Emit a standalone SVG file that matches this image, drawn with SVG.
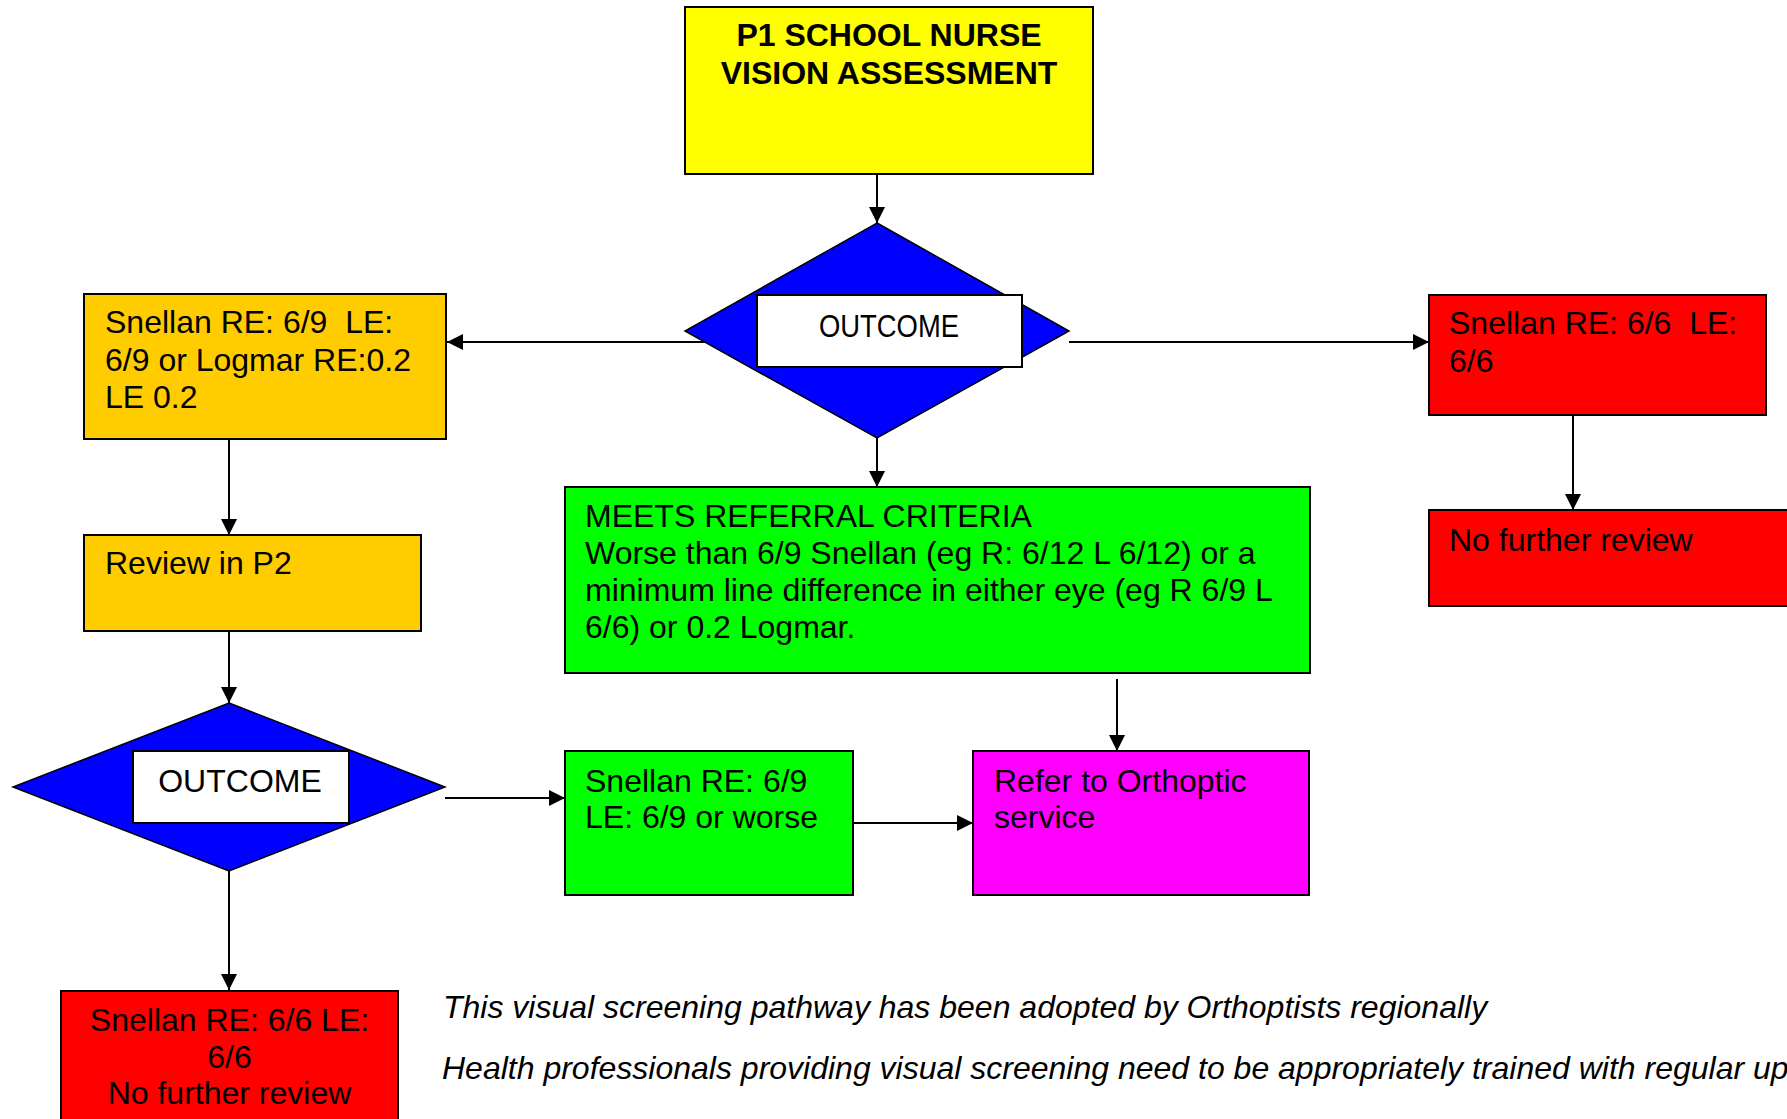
<svg xmlns="http://www.w3.org/2000/svg" width="1787" height="1119" viewBox="0 0 1787 1119">
<style>
.box{stroke:#000;stroke-width:2}
.dia{fill:#0000ff;stroke:#000;stroke-width:1.5}
.lbl{fill:#fff;stroke:#000;stroke-width:2}
.t{font-family:"Liberation Sans",Arial,sans-serif;font-size:32px;fill:#000;white-space:pre}
.b{font-weight:bold;font-size:32px}
.i{font-style:italic;font-size:32px}
.c line{stroke:#000;stroke-width:2;marker-end:url(#ah)}
</style>
<defs>
<marker id="ah" markerUnits="userSpaceOnUse" markerWidth="16" markerHeight="16" refX="16" refY="8" orient="auto">
<path d="M0,0 L16,8 L0,16 z" fill="#000"/>
</marker>
</defs>
<rect width="1787" height="1119" fill="#fff"/>
<g class="c" id="connectors">
<line x1="877" y1="174" x2="877" y2="223"/>
<line x1="708" y1="342" x2="447" y2="342"/>
<line x1="1069" y1="342" x2="1429" y2="342"/>
<line x1="877" y1="438" x2="877" y2="487"/>
<line x1="229" y1="439" x2="229" y2="535"/>
<line x1="229" y1="631" x2="229" y2="703"/>
<line x1="1573" y1="415" x2="1573" y2="510"/>
<line x1="1117" y1="679" x2="1117" y2="751"/>
<line x1="445" y1="798" x2="565" y2="798"/>
<line x1="853" y1="823" x2="973" y2="823"/>
<line x1="229" y1="871" x2="229" y2="990"/>
</g>
<g id="start">
<rect class="box" x="685" y="7" width="408" height="167" fill="#ffff00"/>
<text class="t b" x="889" y="46" text-anchor="middle">P1 SCHOOL NURSE</text>
<text class="t b" x="889" y="84" text-anchor="middle">VISION ASSESSMENT</text>
</g>
<g id="outcome1">
<polygon class="dia" points="877,223 1069,331 877,438 685,331"/>
<rect class="lbl" x="757" y="295" width="265" height="72"/>
<text class="t" x="819" y="337" textLength="140" lengthAdjust="spacingAndGlyphs">OUTCOME</text>
</g>
<g id="snellan69">
<rect class="box" x="84" y="294" width="362" height="145" fill="#ffcc00"/>
<text class="t" x="105" y="333" xml:space="preserve">Snellan RE: 6/9  LE:</text>
<text class="t" x="105" y="371">6/9 or Logmar RE:0.2</text>
<text class="t" x="105" y="408">LE 0.2</text>
</g>
<g id="review">
<rect class="box" x="84" y="535" width="337" height="96" fill="#ffcc00"/>
<text class="t" x="105" y="574">Review in P2</text>
</g>
<g id="snellan66">
<rect class="box" x="1429" y="295" width="337" height="120" fill="#ff0000"/>
<text class="t" x="1449" y="334" xml:space="preserve">Snellan RE: 6/6  LE:</text>
<text class="t" x="1449" y="372">6/6</text>
</g>
<g id="nofurther1">
<rect class="box" x="1429" y="510" width="380" height="96" fill="#ff0000"/>
<text class="t" x="1449" y="551">No further review</text>
</g>
<g id="meets">
<rect class="box" x="565" y="487" width="745" height="186" fill="#00ff00"/>
<text class="t" x="585" y="527">MEETS REFERRAL CRITERIA</text>
<text class="t" x="585" y="564">Worse than 6/9 Snellan (eg R: 6/12 L 6/12) or a</text>
<text class="t" x="585" y="601">minimum line difference in either eye (eg R 6/9 L</text>
<text class="t" x="585" y="638">6/6) or 0.2 Logmar.</text>
</g>
<g id="outcome2">
<polygon class="dia" points="229,703 445,787 229,871 13,787"/>
<rect class="lbl" x="133" y="751" width="216" height="72"/>
<text class="t" x="240" y="792" text-anchor="middle">OUTCOME</text>
</g>
<g id="snellan69worse">
<rect class="box" x="565" y="751" width="288" height="144" fill="#00ff00"/>
<text class="t" x="585" y="792">Snellan RE: 6/9</text>
<text class="t" x="585" y="828">LE: 6/9 or worse</text>
</g>
<g id="refer">
<rect class="box" x="973" y="751" width="336" height="144" fill="#ff00ff"/>
<text class="t" x="994" y="792">Refer to Orthoptic</text>
<text class="t" x="994" y="828">service</text>
</g>
<g id="nofurther2">
<rect class="box" x="61" y="991" width="337" height="150" fill="#ff0000"/>
<text class="t" x="229.5" y="1031" text-anchor="middle">Snellan RE: 6/6 LE:</text>
<text class="t" x="229.5" y="1068" text-anchor="middle">6/6</text>
<text class="t" x="229.5" y="1104" text-anchor="middle">No further review</text>
</g>
<g id="notes">
<text class="t i" x="443" y="1018">This visual screening pathway has been adopted by Orthoptists regionally</text>
<text class="t i" x="442" y="1079">Health professionals providing visual screening need to be appropriately trained with regular updates</text>
</g>
</svg>
